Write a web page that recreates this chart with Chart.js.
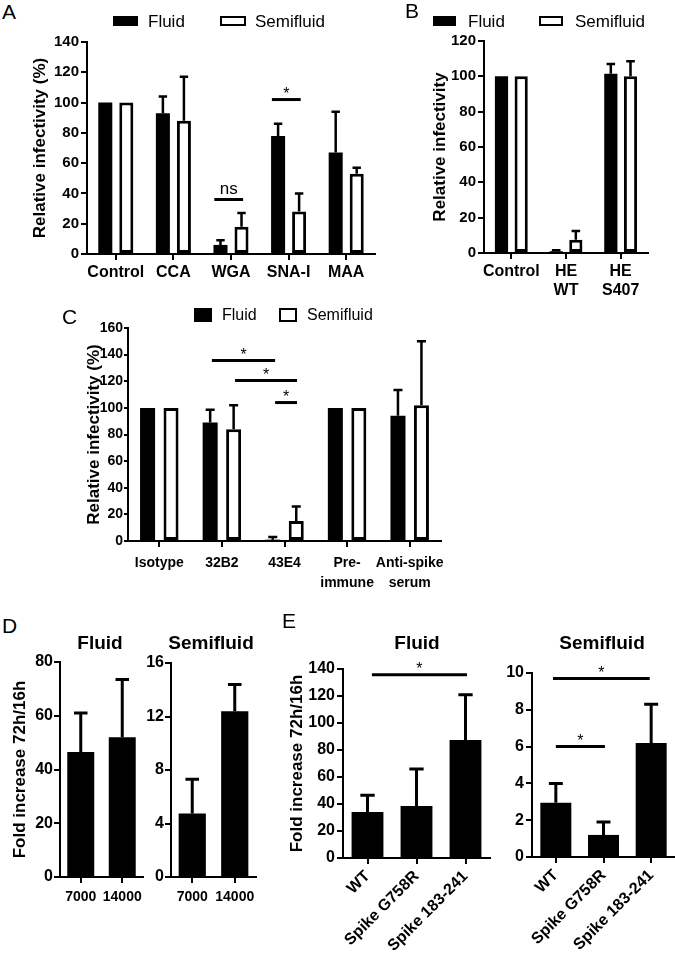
<!DOCTYPE html>
<html>
<head>
<meta charset="utf-8">
<script src="https://cdn.jsdelivr.net/npm/chart.js@4"></script>
<style>
  html, body { margin: 0; padding: 0; background: #fff; }
  body { position: relative; width: 675px; height: 954px; overflow: hidden;
         font-family: 'Liberation Sans', Arial, sans-serif; color: #000; }
  canvas { position: absolute; }
  .t { position: absolute; line-height: 1; white-space: nowrap; transform: translateY(-50%); }
  .mid { transform: translate(-50%, -50%); }
  .box { position: absolute; box-sizing: border-box; background: #000; }
  .hollow { background: #fff; border: 2.5px solid #000; }
</style>
</head>
<body>
<script>
const series = ['Fluid', 'Semifluid'];

// A - lectins
const catsA = ['Control', 'CCA', 'WGA', 'SNA-I', 'MAA'];
const fluidA = [100, 93, 6, 78, 67];
const fluidErrA = [0, 11, 3, 8, 27];
const semiA = [100, 88, 18, 28, 53];
const semiErrA = [0, 29, 9, 12, 4];
const sigA = [[1.71, 2.21, 36, 'ns'], [2.71, 3.21, 102, '*']];

// B - HE
const catsB = ['Control', ['HE', 'WT'], ['HE', 'S407']];
const fluidB = [100, 1, 101.5];
const fluidErrB = [0, 0.5, 5.5];
const semiB = [100, 7.5, 100];
const semiErrB = [0, 5, 8.5];

// C - antibodies
const catsC = ['Isotype', '32B2', '43E4', ['Pre-', 'immune'], ['Anti-spike', 'serum']];
const fluidC = [100, 89, 1, 100, 94];
const fluidErrC = [0, 9.5, 2, 0, 19.5];
const semiC = [100, 84, 15, 100, 102];
const semiErrC = [0, 18, 11, 0, 48];
const sigC = [[0.84, 1.85, 135.5, '*'], [1.21, 2.2, 120.5, '*'], [1.85, 2.2, 104, '*']];

// D - particles
const catsD = ['7000', '14000'];
const fluidD = [46.5, 52];
const fluidErrD = [14.5, 21.5];
const semiD = [4.75, 12.4];
const semiErrD = [2.55, 2.0];

// E - mutants
const catsE = ['WT', 'Spike G758R', 'Spike 183-241'];
const fluidE = [34, 38.5, 87.5];
const fluidErrE = [12.5, 27.5, 33.5];
const semiE = [2.95, 1.2, 6.2];
const semiErrE = [1.05, 0.7, 2.1];
const sigEFluid = [[0.09, 2.03, 135.7, '*']];
const sigESemi = [[-0.06, 1.97, 9.7, '*'], [0.0, 1.03, 6.0, '*']];

Chart.defaults.font.family = "'Liberation Sans', Arial, sans-serif";
Chart.defaults.color = '#000';

const errorBars = {
  id: 'errorBars',
  afterDatasetsDraw(chart, args, o) {
    const ctx = chart.ctx, ys = chart.scales.y;
    chart.data.datasets.forEach((ds, i) => {
      chart.getDatasetMeta(i).data.forEach((bar, j) => {
        const e = ds.err[j];
        if (!e) return;
        const top = ys.getPixelForValue(ds.data[j] + e);
        const half = bar.width * o.cap / 2;
        ctx.save();
        ctx.strokeStyle = '#000';
        ctx.lineWidth = o.width;
        ctx.beginPath();
        ctx.moveTo(bar.x, bar.y);
        ctx.lineTo(bar.x, top - o.width / 2);
        ctx.moveTo(bar.x - half, top);
        ctx.lineTo(bar.x + half, top);
        ctx.stroke();
        ctx.restore();
      });
    });
  }
};

const sigBars = {
  id: 'sigBars',
  afterDraw(chart, args, o) {
    const ctx = chart.ctx, xs = chart.scales.x, ys = chart.scales.y;
    (o.lines || []).forEach(([a, b, v, txt]) => {
      const x1 = xs.getPixelForValue(a), x2 = xs.getPixelForValue(b);
      const y = ys.getPixelForValue(v);
      ctx.save();
      ctx.strokeStyle = '#000';
      ctx.lineWidth = 3;
      ctx.beginPath();
      ctx.moveTo(x1, y);
      ctx.lineTo(x2, y);
      ctx.stroke();
      ctx.fillStyle = '#000';
      ctx.font = (txt === 'ns' ? 17 : 16) + "px 'Liberation Sans', Arial, sans-serif";
      ctx.textAlign = 'center';
      ctx.textBaseline = 'alphabetic';
      ctx.fillText(txt, (x1 + x2) / 2, y - (txt === 'ns' ? 5 : 1));
      ctx.restore();
    });
  }
};

function makeChart(p) {
  const c = document.createElement('canvas');
  const [l, r, t, b] = p.area;
  const [pl, pt, pr, pb] = p.pad;
  const w = r - l + pl + pr, h = b - t + pt + pb;
  c.width = w; c.height = h;
  c.style.left = (l - pl) + 'px';
  c.style.top = (t - pt) + 'px';
  c.style.width = w + 'px';
  c.style.height = h + 'px';
  document.body.appendChild(c);

  const datasets = p.sets.map(s => ({
    label: s.label,
    data: s.data,
    err: s.err,
    backgroundColor: s.hollow ? '#fff' : '#000',
    borderColor: '#000',
    borderWidth: s.hollow ? 3 : 0,
    borderSkipped: false,
    categoryPercentage: p.catPct,
    barPercentage: p.barPct
  }));

  return new Chart(c, {
    type: 'bar',
    data: { labels: p.labels, datasets },
    plugins: [errorBars, sigBars],
    options: {
      responsive: false,
      animation: false,
      layout: { padding: { left: 0, top: pt, right: pr, bottom: 0 } },
      plugins: {
        legend: { display: false },
        tooltip: { enabled: false },
        errorBars: { cap: p.cap, width: p.errW },
        sigBars: { lines: p.sig || [] }
      },
      scales: {
        x: {
          grid: { display: true, offset: false, drawOnChartArea: false, tickLength: 6, color: '#000', lineWidth: 2 },
          border: { display: true, color: '#000', width: 2 },
          ticks: { font: { size: p.xSize, weight: 'bold', lineHeight: p.xLine || 1.2 }, padding: p.xPad, autoSkip: false,
                   maxRotation: p.rot || 0, minRotation: p.rot || 0 },
          afterFit: s => { s.height = pb; }
        },
        y: {
          min: 0,
          max: p.yMax,
          grid: { display: true, drawOnChartArea: false, tickLength: p.tickLen || 6, color: '#000', lineWidth: 2 },
          border: { display: true, color: '#000', width: 2 },
          ticks: { stepSize: p.yStep, font: { size: p.ySize, weight: 'bold' }, padding: p.yPad },
          title: p.title
            ? { display: true, text: p.title, font: { size: 17, weight: 'bold' }, padding: { top: p.titlePad, bottom: 0 } }
            : { display: false },
          afterFit: s => { s.width = pl; }
        }
      }
    }
  });
}

function pair(f, fe, s, se) {
  return [
    { label: series[0], data: f, err: fe },
    { label: series[1], data: s, err: se, hollow: true }
  ];
}

function text(str, x, y, size, weight, center) {
  const d = document.createElement('div');
  d.className = 't' + (center ? ' mid' : '');
  d.textContent = str;
  d.style.left = x + 'px';
  d.style.top = y + 'px';
  d.style.fontSize = size + 'px';
  d.style.fontWeight = weight || 'normal';
  document.body.appendChild(d);
}

function box(x, y, w, h, hollow) {
  const d = document.createElement('div');
  d.className = 'box' + (hollow ? ' hollow' : '');
  d.style.left = x + 'px';
  d.style.top = y + 'px';
  d.style.width = w + 'px';
  d.style.height = h + 'px';
  document.body.appendChild(d);
}

// panel A
makeChart({
  area: [87, 375, 42, 254], pad: [87, 14, 8, 40],
  labels: catsA, sets: pair(fluidA, fluidErrA, semiA, semiErrA), sig: sigA,
  yMax: 140, yStep: 20, ySize: 15, xSize: 16, yPad: 2, xPad: 3,
  title: 'Relative infectivity (%)', titlePad: 30,
  catPct: 0.73, barPct: 0.667, cap: 0.6, errW: 2.5
});
text('A', 2, 11, 21);
box(113, 16, 25, 10);
text(series[0], 148, 21, 17);
box(220, 16, 26, 10, true);
text(series[1], 255, 21, 17);

// panel B
makeChart({
  area: [484, 648, 41, 253], pad: [84, 14, 10, 48],
  labels: catsB, sets: pair(fluidB, fluidErrB, semiB, semiErrB),
  yMax: 120, yStep: 20, ySize: 15, xSize: 16, yPad: 2, xPad: 3,
  title: 'Relative infectivity', titlePad: 30,
  catPct: 0.72, barPct: 0.67, cap: 0.65, errW: 2.5
});
text('B', 405, 10, 21);
box(433, 16, 23, 10);
text(series[0], 468, 21, 17);
box(539, 16, 24, 10, true);
text(series[1], 575, 21, 17);

// panel C
makeChart({
  area: [128, 441, 328, 541], pad: [68, 12, 14, 55],
  labels: catsC, sets: pair(fluidC, fluidErrC, semiC, semiErrC), sig: sigC,
  yMax: 160, yStep: 20, ySize: 14, xSize: 14, yPad: 1, xPad: 6, xLine: 1.45, tickLen: 4,
  title: 'Relative infectivity (%)', titlePad: 24,
  catPct: 0.75, barPct: 0.64, cap: 0.6, errW: 2.5
});
text('C', 62, 316, 21);
box(194, 308, 18, 14);
text(series[0], 222, 315, 16);
box(279, 308, 18, 14, true);
text(series[1], 307, 315, 16);

// panel D
makeChart({
  area: [60, 143, 662, 877], pad: [60, 12, 10, 30],
  labels: catsD, sets: [{ label: series[0], data: fluidD, err: fluidErrD }],
  yMax: 80, yStep: 20, ySize: 16, xSize: 14, yPad: 1, xPad: 6,
  title: 'Fold increase 72h/16h', titlePad: 10,
  catPct: 1, barPct: 0.65, cap: 0.5, errW: 3
});
makeChart({
  area: [171, 256, 663, 877], pad: [31, 12, 10, 30],
  labels: catsD, sets: [{ label: series[1], data: semiD, err: semiErrD }],
  yMax: 16, yStep: 4, ySize: 16, xSize: 14, yPad: 1, xPad: 6,
  catPct: 1, barPct: 0.64, cap: 0.5, errW: 3
});
text('D', 2, 625, 21);
text(series[0], 100, 642, 19, 'bold', true);
text(series[1], 211, 642, 19, 'bold', true);

// panel E
makeChart({
  area: [343, 490, 669, 858], pad: [63, 12, 6, 96],
  labels: catsE, sets: [{ label: series[0], data: fluidE, err: fluidErrE }], sig: sigEFluid,
  yMax: 140, yStep: 20, ySize: 16, xSize: 16, yPad: 2, xPad: 3, rot: 45,
  title: 'Fold increase 72h/16h', titlePad: 7,
  catPct: 1, barPct: 0.65, cap: 0.45, errW: 3
});
makeChart({
  area: [532, 675, 673, 857], pad: [32, 12, 0, 97],
  labels: catsE, sets: [{ label: series[1], data: semiE, err: semiErrE }], sig: sigESemi,
  yMax: 10, yStep: 2, ySize: 16, xSize: 16, yPad: 2, xPad: 3, rot: 45,
  catPct: 1, barPct: 0.65, cap: 0.45, errW: 3
});
text('E', 282, 620, 21);
text(series[0], 417, 642, 19, 'bold', true);
text(series[1], 602, 642, 19, 'bold', true);
</script>
</body>
</html>
